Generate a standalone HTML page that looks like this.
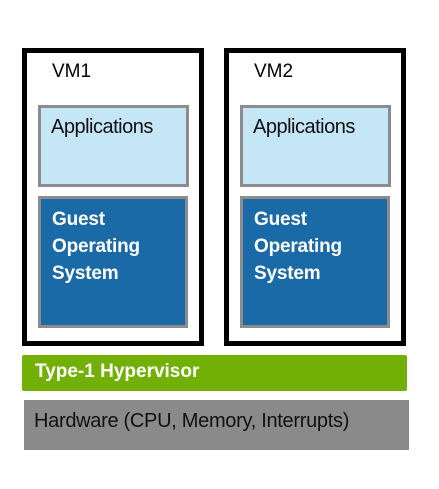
<html><head><style>
body{margin:0;width:439px;height:489px;background:#fff;position:relative;font-family:"Liberation Sans",sans-serif;overflow:hidden}
div{position:absolute;box-sizing:border-box}
.vm{border:5px solid #000;background:#fff;top:48px;width:182px;height:298px}
.app{background:#c4e6f7;border:3px solid #8c8c8c;top:105px;width:151px;height:82px;font-size:20px;color:#111;padding:8px 0 0 10px;letter-spacing:-0.5px}
.os{background:#1a6aa8;border:3px solid #8c8c8c;top:196px;width:150px;height:132px;font-size:19px;font-weight:bold;color:#fff;padding:7px 0 0 11px;line-height:27px;letter-spacing:-0.2px}
.lbl{font-size:19px;top:61px;color:#000}
</style></head><body>
<div class="vm" style="left:22px"></div>
<div class="vm" style="left:224px"></div>
<div class="lbl" style="left:52px">VM1</div>
<div class="lbl" style="left:254px">VM2</div>
<div class="app" style="left:38px">Applications</div>
<div class="app" style="left:240px">Applications</div>
<div class="os" style="left:38px">Guest<br>Operating<br>System</div>
<div class="os" style="left:240px">Guest<br>Operating<br>System</div>
<div style="left:22px;top:355px;width:385px;height:36px;background:#72b006;border-radius:2px;color:#fff;font-weight:bold;font-size:19px;padding:6px 0 0 13px;letter-spacing:0px">Type-1 Hypervisor</div>
<div style="left:24px;top:400px;width:385px;height:50px;background:#8a8a8a;color:#111;font-size:20px;padding:10px 0 0 10px;letter-spacing:-0.3px">Hardware (CPU, Memory, Interrupts)</div>
</body></html>
